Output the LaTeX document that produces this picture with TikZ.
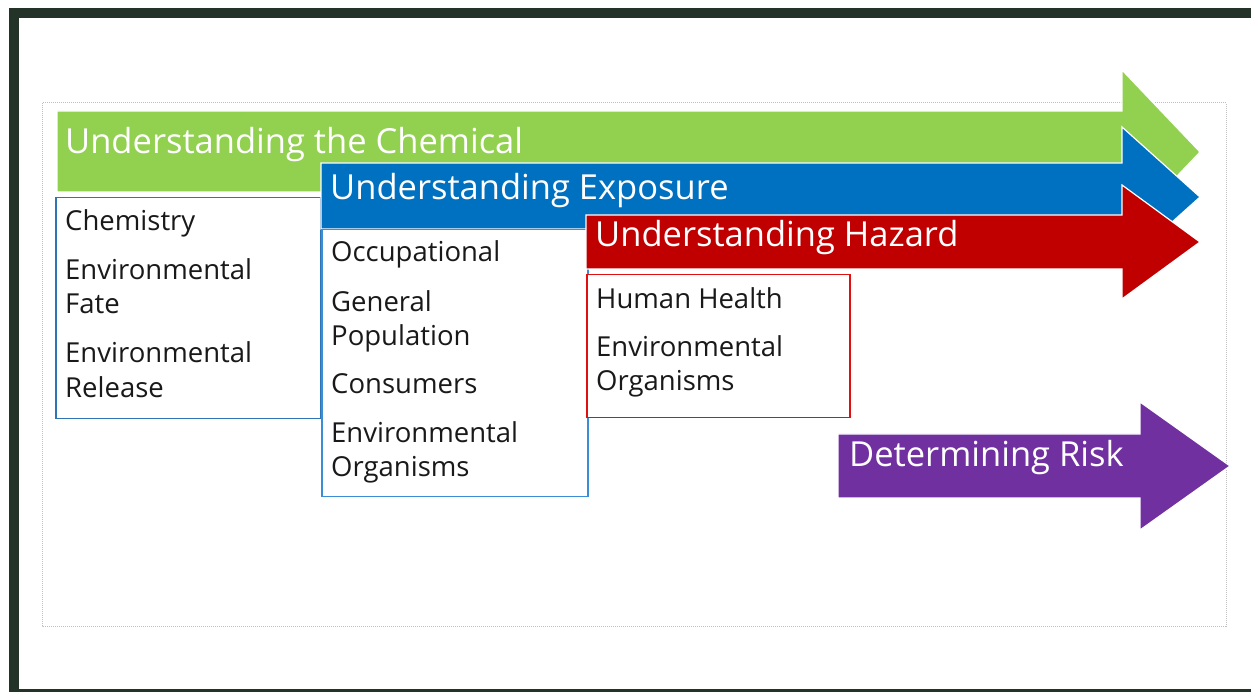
\documentclass[tikz,border=0pt]{standalone}
\usepackage{fontspec}
\setmainfont{Open Sans}
\definecolor{frame}{HTML}{243328}
\definecolor{cgreen}{HTML}{92D050}
\definecolor{cblue}{HTML}{0070C0}
\definecolor{cred}{HTML}{C00000}
\definecolor{cpurple}{HTML}{7030A0}
\definecolor{boxblue}{HTML}{2E75B6}
\definecolor{boxblueb}{HTML}{3B8ED6}
\definecolor{boxred}{HTML}{E01010}
\tikzset{
  bigarrow/.style={draw=white, line width=1.2pt, line join=miter},
  head/.style={anchor=base west, inner sep=0pt, text=white, font=\fontsize{34.5}{40}\selectfont},
  item/.style={anchor=base west, inner sep=0pt, text=black!90, font=\fontsize{27.5}{33}\selectfont},
  listbox/.style={draw, line width=1.5pt, fill=white}
}
\begin{document}
\begin{tikzpicture}[x=1pt,y=-1pt]
\useasboundingbox (0,0) rectangle (1251,692);
\fill[white] (0,0) rectangle (1251,692);
% dark frame
\fill[frame] (9,8) rectangle (1251,18);
\fill[frame] (9,8) rectangle (19,692);
\fill[frame] (9,689) rectangle (1251,692);
% dotted outer rectangle
\draw[black!25, line width=1pt, dash pattern=on 1pt off 1pt] (42,103) rectangle (1226,626);

% green arrow
\path[bigarrow, fill=cgreen] (57,111) -- (1122,111) -- (1122,70) -- (1200,152) -- (1122,234) -- (1122,192) -- (57,192) -- cycle;
\node[head] (tchem) at (65,154) {Understanding the Chemical};
% box 1
\node[listbox, draw=boxblue, minimum width=265pt, minimum height=221pt, anchor=north west, inner sep=0pt] (box1) at (55,197) {};
\node[item] (chem) at (65,231) {Chemistry};
\node[item] (envf1) at (65,280) {Environmental};
\node[item] (envf2) at (65,314) {Fate};
\node[item] (envr1) at (65,363) {Environmental};
\node[item] (envr2) at (65,398) {Release};

% blue arrow
\path[bigarrow, fill=cblue] (321,163) -- (1122,163) -- (1122,127) -- (1200,197) -- (1122,267) -- (1122,229) -- (321,229) -- cycle;
\node[head] (texp) at (330,200) {Understanding Exposure};
% box 2
\node[listbox, draw=boxblueb, minimum width=266pt, minimum height=267pt, anchor=north west, inner sep=0pt] (box2) at (321,229) {};
\node[item] (occ) at (331,262) {Occupational};
\node[item] (gen1) at (331,312) {General};
\node[item] (gen2) at (331,346) {Population};
\node[item] (cons) at (331,394) {Consumers};
\node[item] (envo1) at (331,443) {Environmental};
\node[item] (envo2) at (331,477) {Organisms};

% red arrow
\path[bigarrow, fill=cred] (586,215) -- (1122,215) -- (1122,185) -- (1200,242) -- (1122,299) -- (1122,269) -- (586,269) -- cycle;
\node[head] (thaz) at (595,247) {Understanding Hazard};
% box 3
\node[listbox, draw=boxred, minimum width=263pt, minimum height=143pt, anchor=north west, inner sep=0pt] (box3) at (586,274) {};
\node[item] (hh) at (596,309) {Human Health};
\node[item] (eo1) at (596,357) {Environmental};
\node[item] (eo2) at (596,391) {Organisms};

% purple arrow
\path[bigarrow, fill=cpurple] (838,434) -- (1140,434) -- (1140,402) -- (1230,466) -- (1140,530) -- (1140,498) -- (838,498) -- cycle;
\node[head] (trisk) at (849,467) {Determining Risk};
\end{tikzpicture}
\end{document}
